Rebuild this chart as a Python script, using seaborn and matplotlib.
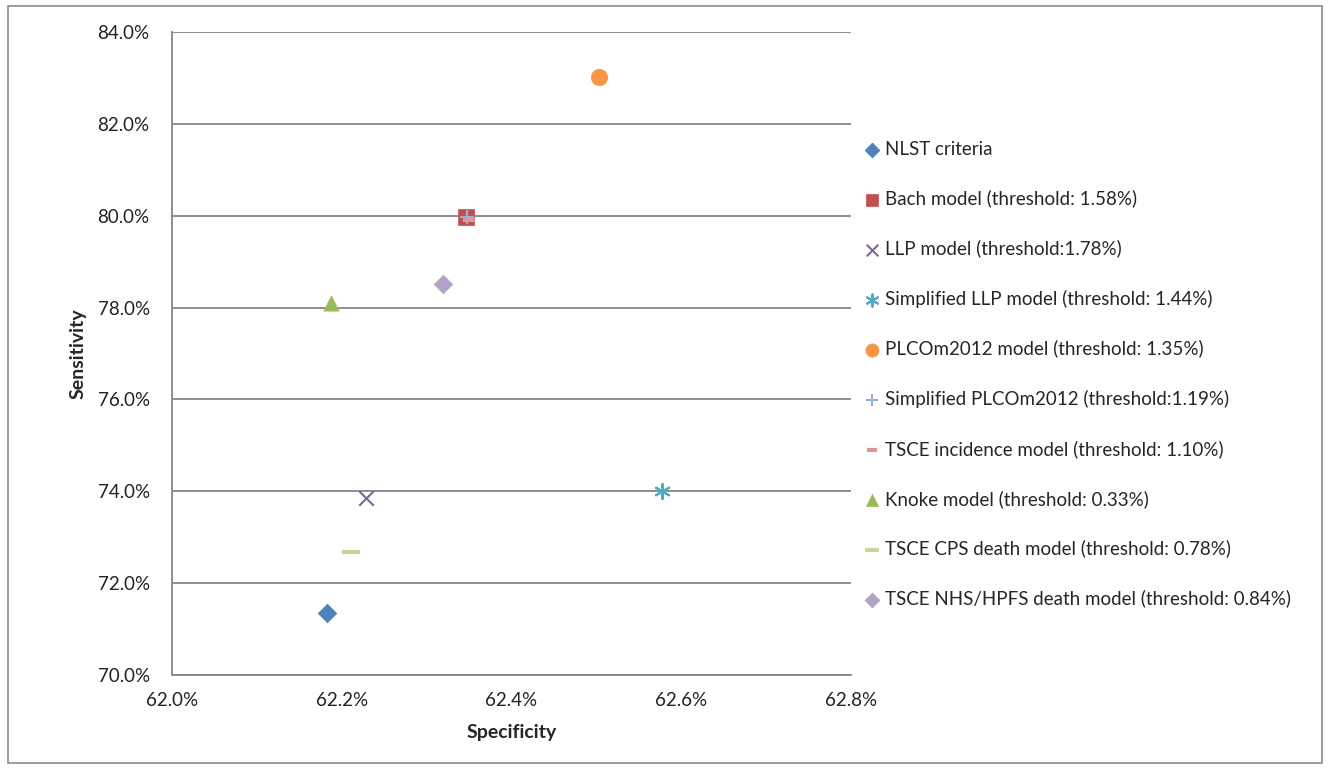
import pandas as pd
import seaborn as sns
import matplotlib.pyplot as plt
from matplotlib.patches import Rectangle
from matplotlib.ticker import FuncFormatter

# données (en %)
models = [
    "NLST criteria",
    "Bach model (threshold: 1.58%)",
    "LLP model (threshold:1.78%)",
    "Simplified LLP model (threshold: 1.44%)",
    "PLCOm2012 model (threshold: 1.35%)",
    "Simplified PLCOm2012 (threshold:1.19%)",
    "TSCE incidence model (threshold: 1.10%)",
    "Knoke model (threshold: 0.33%)",
    "TSCE CPS death model (threshold: 0.78%)",
    "TSCE NHS/HPFS death model (threshold: 0.84%)",
]
specificity = [62.183, 62.346, 62.229, 62.577, 62.503, 62.348, 62.350, 62.187, 62.211, 62.319]
sensitivity = [71.35, 79.97, 73.85, 74.00, 83.02, 79.98, 79.90, 78.10, 72.68, 78.51]

colors = ["#4F81BD", "#C0504D", "#8064A2", "#4BACC6", "#F79646",
          "#95B3D7", "#D99694", "#9BBB59", "#C3D69B", "#B3A2C7"]
markers = ["D", "s", "x", (6, 2, 0), "o", "+", "_", "^", "_", "D"]
sizes = [90, 120, 110, 120, 140, 110, 80, 120, 150, 90]

df = pd.DataFrame({"model": models, "spec": specificity, "sens": sensitivity})

sns.set_style("white")
plt.rcParams["font.family"] = ["Lato", "DejaVu Sans"]

fig = plt.figure(figsize=(13.3, 7.68), dpi=100)
ax = fig.add_axes([0.1293, 0.1211, 0.5105, 0.8372])

for i, row in df.iterrows():
    m = markers[i]
    kw = {}
    if m in ("D", "s", "o", "^"):
        kw["edgecolor"] = colors[i]
        kw["linewidth"] = 0.5
    else:
        kw["linewidth"] = 3 if m == "_" else 1.5
    sns.scatterplot(x=[row["spec"]], y=[row["sens"]], ax=ax, marker=m,
                    color=colors[i], s=sizes[i], label=row["model"], zorder=3, **kw)

ax.set_xlim(62.0, 62.8)
ax.set_ylim(70, 84)
ax.set_xticks([62.0, 62.2, 62.4, 62.6, 62.8])
ax.set_yticks(range(70, 85, 2))
ax.xaxis.set_major_formatter(FuncFormatter(lambda v, p: f"{v:.1f}%"))
ax.yaxis.set_major_formatter(FuncFormatter(lambda v, p: f"{v:.1f}%"))
ax.tick_params(axis="both", labelsize=13.5, length=0, colors="#222222")
ax.tick_params(axis="y", pad=16)
ax.tick_params(axis="x", pad=12)

ax.yaxis.grid(True, color="#868686", linewidth=1.3)
ax.set_axisbelow(True)
for side in ["top", "right"]:
    ax.spines[side].set_visible(False)
for side in ["left", "bottom"]:
    ax.spines[side].set_color("#868686")
    ax.spines[side].set_linewidth(1.3)

ax.set_xlabel("Specificity", fontsize=14, fontweight="bold", labelpad=11)
ax.set_ylabel("Sensitivity", fontsize=14, fontweight="bold", labelpad=8)

ax.legend(loc="center left", bbox_to_anchor=(0.995, 0.468), frameon=False,
          fontsize=13.5, labelspacing=1.71, handlelength=0.8, handletextpad=0.3,
          markerscale=0.8)

# cadre du graphique
fig.patches.append(Rectangle((0.006, 0.007), 0.988, 0.985, transform=fig.transFigure,
                             fill=False, edgecolor="#8C8C8C", linewidth=1.2))

fig.savefig("out.png", dpi=100)
